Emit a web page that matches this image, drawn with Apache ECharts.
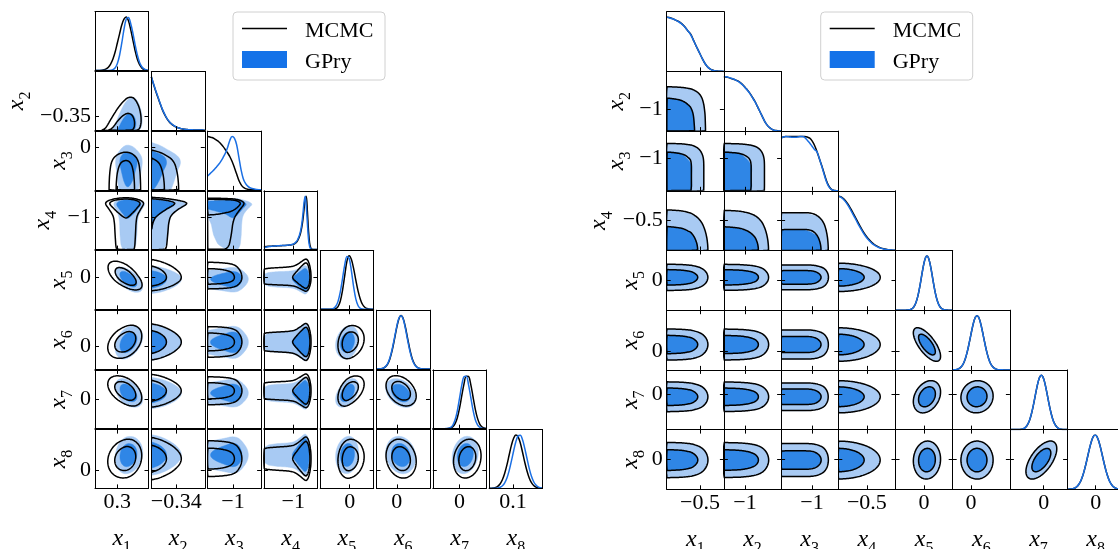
<!DOCTYPE html>
<html><head><meta charset="utf-8">
<script src="https://cdn.jsdelivr.net/npm/echarts@6/dist/echarts.min.js"></script>
<style>html,body{margin:0;padding:0;background:#fff}#c{width:1118px;height:549px}</style>
</head><body><div id="c"></div>
<script>
// ---------------- DATA ----------------
const VAR_NAMES = ['1','2','3','4','5','6','7','8'];
// Left corner plot: axis ranges and tick values
const L_MIN = [0.25, -0.36, -2.85, -2.1, -1.1, -0.76, -1.0, -0.22];
const L_MAX = [0.37, -0.317, 1.05, -0.1, 0.9, 1.24, 1.0, 0.5];
const L_XTICKS = [0.3, -0.34, -1, -1, 0, 0, 0, 0.1];
const L_YTICKS = [0.3, -0.35, 0, -1, 0, 0, 0, 0];
// Right corner plot
const R_MIN = [-1.0, -1.74, -2.08, -1.0, -1.0, -0.32, -0.59, -0.5];
const R_MAX = [-0.14, 0.26, -0.08, 0.0, 1.0, 0.68, 0.41, 0.5];
const R_XTICKS = [-0.5, -1, -1, -0.5, 0, 0, 0, 0];
const R_YTICKS = [-0.5, -1, -1, -0.5, 0, 0, 0, 0];

// 1D marginals (peak-normalised), sampled evenly across each axis range
const L_MCMC_X1 = [0.0002,0.0006,0.0018,0.005,0.013,0.029,0.062,0.12,0.21,0.34,0.51,0.68,0.85,0.96,1.0,0.93,0.77,0.57,0.37,0.21,0.11,0.049,0.019,0.007,0.002];
const L_GPRY_X1 = [0,0,0,0,0,0.0001,0.0007,0.0037,0.014,0.046,0.126,0.28,0.51,0.77,0.96,0.99,0.88,0.70,0.48,0.29,0.15,0.071,0.029,0.010,0.003];
const L_MCMC_X2 = [1.0,0.86,0.73,0.61,0.49,0.38,0.29,0.215,0.16,0.118,0.086,0.062,0.045,0.033,0.024,0.018,0.013,0.01,0.0075,0.0055,0.004,0.003,0.002,0.0015,0.001];
const L_GPRY_X2 = [1.0,0.87,0.74,0.62,0.50,0.39,0.30,0.22,0.165,0.12,0.088,0.064,0.046,0.034,0.025,0.018,0.013,0.01,0.0075,0.0055,0.004,0.003,0.002,0.0015,0.001];
const L_MCMC_X3 = [1.0,0.99,0.98,0.96,0.93,0.90,0.86,0.81,0.75,0.69,0.62,0.53,0.42,0.3,0.18,0.1,0.05,0.025,0.013,0.007,0.004,0.003,0.002,0.001,0.001];
const L_GPRY_X3 = [0.26,0.30,0.34,0.38,0.43,0.48,0.54,0.61,0.69,0.80,0.93,1.0,0.97,0.85,0.62,0.38,0.21,0.12,0.07,0.04,0.025,0.015,0.009,0.005,0.003];
const L_MCMC_X4 = [0.05,0.055,0.058,0.06,0.062,0.063,0.064,0.065,0.066,0.067,
  0.068,0.069,0.07,0.071,0.072,0.073,0.074,0.075,0.076,0.077,
  0.078,0.08,0.082,0.085,0.088,0.092,0.097,0.105,0.118,0.135,
  0.16,0.2,0.25,0.32,0.42,0.56,0.75,0.95,1.0,0.72,
  0.36,0.12,0.035,0.008,0.002,0,0,0,0];
const L_GPRY_X4 = [0.035,0.04,0.045,0.05,0.055,0.058,0.06,0.062,0.064,0.066,
  0.068,0.07,0.072,0.073,0.074,0.075,0.076,0.077,0.078,0.079,
  0.08,0.082,0.084,0.087,0.09,0.094,0.1,0.11,0.125,0.145,
  0.175,0.22,0.28,0.36,0.48,0.66,0.88,1.0,0.82,0.5,
  0.2,0.06,0.015,0.003,0,0,0,0,0];
const L_MCMC_X5 = [0,0,0,0,0.0001,0.0005,0.003,0.014,0.052,0.152,0.35,0.63,0.9,1.0,0.93,0.76,0.54,0.34,0.19,0.09,0.039,0.014,0.005,0.0015,0.0004];
const L_GPRY_X5 = [0,0,0,0,0.001,0.004,0.017,0.057,0.148,0.32,0.57,0.83,0.99,0.95,0.72,0.42,0.19,0.067,0.018,0.004,0.001,0,0,0,0];
const L_MCMC_X6 = [0.0003,0.0014,0.0047,0.0144,0.039,0.091,0.189,0.343,0.544,0.761,0.932,1.0,0.94,0.776,0.564,0.358,0.198,0.098,0.042,0.0155,0.0052,0.0015,0.0004,0.0001,0];
const L_GPRY_X6 = [0.0004,0.0018,0.006,0.017,0.045,0.1,0.205,0.365,0.57,0.78,0.945,0.995,0.93,0.75,0.53,0.33,0.18,0.085,0.036,0.013,0.004,0.001,0.0003,0,0];
const L_MCMC_X7 = [0,0,0,0,0,0.0002,0.0008,0.0035,0.012,0.037,0.094,0.205,0.385,0.618,0.84,0.982,0.978,0.835,0.607,0.375,0.202,0.091,0.035,0.012,0.0033];
const L_GPRY_X7 = [0,0,0,0,0.0001,0.0004,0.0018,0.0072,0.024,0.069,0.168,0.335,0.57,0.815,0.974,0.982,0.83,0.594,0.355,0.177,0.076,0.027,0.0079,0.002,0.0004];
const L_MCMC_X8 = [0.0009,0.0027,0.0074,0.0187,0.043,0.087,0.166,0.285,0.44,0.625,0.805,0.939,1.0,0.965,0.85,0.677,0.49,0.326,0.195,0.106,0.053,0.024,0.0097,0.0037,0.0012];
const L_GPRY_X8 = [0.0001,0.0003,0.001,0.003,0.0086,0.022,0.05,0.105,0.195,0.333,0.51,0.70,0.872,0.98,0.993,0.908,0.748,0.56,0.375,0.227,0.125,0.062,0.027,0.011,0.004];

const R_MCMC_X1 = [1.0,0.995,0.98,0.96,0.94,0.92,0.89,0.85,0.80,0.74,0.69,0.60,0.50,0.41,0.32,0.23,0.15,0.09,0.05,0.025,0.012,0.006,0.003,0.001,0];
const R_GPRY_X1 = [1.0,0.99,0.975,0.96,0.94,0.915,0.885,0.845,0.795,0.74,0.68,0.595,0.50,0.41,0.32,0.23,0.15,0.09,0.05,0.024,0.011,0.005,0.002,0.001,0];
const R_MCMC_X2 = [1.0,0.995,0.985,0.97,0.955,0.94,0.92,0.89,0.85,0.80,0.75,0.69,0.62,0.55,0.46,0.37,0.28,0.19,0.12,0.07,0.038,0.018,0.01,0.004,0.001];
const R_GPRY_X2 = [1.0,1.0,0.99,0.975,0.96,0.94,0.915,0.885,0.845,0.795,0.745,0.685,0.615,0.545,0.46,0.37,0.28,0.19,0.12,0.07,0.036,0.017,0.008,0.003,0.001];
const R_MCMC_X3 = [0.98,0.99,1.0,1.0,1.0,1.0,1.0,1.0,1.0,1.0,1.0,0.99,0.97,0.92,0.84,0.73,0.6,0.47,0.33,0.19,0.09,0.03,0.01,0.003,0.001];
const R_GPRY_X3 = [0.97,0.99,1.0,0.995,0.99,0.985,0.985,0.99,1.0,1.0,0.98,0.93,0.88,0.82,0.76,0.72,0.6,0.46,0.31,0.17,0.075,0.025,0.008,0.002,0];
const R_MCMC_X4 = [1.0,0.99,0.962,0.917,0.857,0.786,0.707,0.623,0.54,0.458,0.381,0.311,0.249,0.196,0.151,0.114,0.085,0.062,0.044,0.031,0.021,0.014,0.009,0.006,0.004];
const R_GPRY_X4 = [1.0,0.985,0.95,0.9,0.835,0.76,0.68,0.6,0.515,0.435,0.36,0.29,0.23,0.18,0.137,0.103,0.076,0.055,0.039,0.027,0.018,0.012,0.008,0.005,0.003];
const R_MCMC_X5 = [0,0,0,0,0,0,0.0002,0.0006,0.0015,0.0037,0.0084,0.018,0.036,0.068,0.119,0.196,0.302,0.436,0.588,0.742,0.876,0.967,1,0.967,0.876,0.742,0.588,0.436,0.302,0.196,0.119,0.068,0.036,0.018,0.0084,0.0037,0.0015,0.0006,0.0002,0,0];
const R_GPRY_X5 = [0,0,0,0,0,0,0.0002,0.0007,0.0016,0.0039,0.0088,0.019,0.037,0.07,0.122,0.2,0.306,0.44,0.592,0.745,0.878,0.968,1,0.966,0.873,0.738,0.584,0.432,0.298,0.193,0.117,0.067,0.035,0.017,0.008,0.0035,0.0014,0.0005,0.0002,0,0];
const R_MCMC_X6 = [0.0011,0.0024,0.0049,0.0098,0.0185,0.033,0.057,0.094,0.147,0.22,0.314,0.427,0.554,0.685,0.808,0.91,0.977,1,0.977,0.91,0.808,0.685,0.554,0.427,0.314,0.22,0.147,0.094,0.057,0.033,0.0185,0.0098,0.0049,0.0024,0.0011,0.0005,0.0002,0,0,0,0];
const R_GPRY_X6 = [0.0012,0.0026,0.0052,0.0102,0.019,0.034,0.059,0.097,0.151,0.224,0.318,0.431,0.558,0.688,0.81,0.911,0.977,1,0.976,0.907,0.804,0.68,0.549,0.422,0.31,0.216,0.144,0.091,0.055,0.032,0.018,0.0094,0.0047,0.0023,0.001,0.0005,0.0002,0,0,0,0];
const R_MCMC_X7 = [0,0,0,0,0.0002,0.0006,0.0013,0.003,0.0063,0.0127,0.024,0.044,0.076,0.123,0.191,0.282,0.395,0.524,0.662,0.793,0.902,0.975,1,0.975,0.902,0.793,0.662,0.524,0.395,0.282,0.191,0.123,0.076,0.044,0.024,0.0127,0.0063,0.003,0.0013,0.0006,0.0002];
const R_GPRY_X7 = [0,0,0,0,0.0002,0.0007,0.0014,0.0032,0.0066,0.0132,0.025,0.046,0.079,0.127,0.196,0.287,0.4,0.529,0.666,0.796,0.904,0.976,1,0.973,0.899,0.789,0.657,0.519,0.39,0.278,0.187,0.12,0.074,0.043,0.023,0.0122,0.006,0.0028,0.0012,0.0005,0.0002];
const R_MCMC_X8 = [0.0008,0.0017,0.0033,0.0061,0.011,0.019,0.033,0.053,0.083,0.125,0.182,0.255,0.344,0.447,0.56,0.676,0.787,0.882,0.954,0.993,0.997,0.964,0.899,0.808,0.699,0.583,0.469,0.363,0.271,0.195,0.135,0.09,0.058,0.036,0.022,0.0125,0.0069,0.0037,0.0019,0.001,0.0005];
const R_GPRY_X8 = [0.0008,0.0018,0.0034,0.0063,0.0113,0.0195,0.034,0.054,0.085,0.127,0.185,0.258,0.347,0.45,0.563,0.679,0.789,0.884,0.955,0.993,0.996,0.962,0.896,0.804,0.695,0.579,0.465,0.359,0.268,0.192,0.133,0.088,0.057,0.035,0.021,0.012,0.0066,0.0035,0.0018,0.0009,0.0004];

// pair correlations [var a, var b, rho] (unlisted pairs: 0)
const L_RHO = [[1,2,0.35],[1,5,-0.6],[1,6,0.35],[1,7,-0.45],[1,8,0.15],[5,6,0.2],[5,7,0.45],[5,8,0.1],[6,7,-0.35],[6,8,-0.15],[7,8,0.15]];
const R_RHO = [[5,6,-0.7],[5,7,0.3],[6,7,0.05],[5,8,0.05],[7,8,0.6]];

// ---------------- STYLE ----------------
const FONT = "'Liberation Serif', 'DejaVu Serif', serif";
const GPRY_LINE = '#1a6fe4';
const GPRY_DARK = '#2f86e6';
const GPRY_LIGHT = '#a8caf3';
const GPRY_PATCH = '#1472e8';

const PLOTS = [
  {left0:95, pitchX:56.3, w:53.5, top0:11.7, pitchY:59.7, h:58.8, min:L_MIN, max:L_MAX, xt:L_XTICKS, yt:L_YTICKS,
   mc:[L_MCMC_X1,L_MCMC_X2,L_MCMC_X3,L_MCMC_X4,L_MCMC_X5,L_MCMC_X6,L_MCMC_X7,L_MCMC_X8],
   gp:[L_GPRY_X1,L_GPRY_X2,L_GPRY_X3,L_GPRY_X4,L_GPRY_X5,L_GPRY_X6,L_GPRY_X7,L_GPRY_X8],
   rho:L_RHO, yGap:[0,61,18,35,16,16,16,16]},
  {left0:666.7, pitchX:57.2, w:57.2, top0:11.7, pitchY:59.7, h:59.7, min:R_MIN, max:R_MAX, xt:R_XTICKS, yt:R_YTICKS,
   mc:[R_MCMC_X1,R_MCMC_X2,R_MCMC_X3,R_MCMC_X4,R_MCMC_X5,R_MCMC_X6,R_MCMC_X7,R_MCMC_X8],
   gp:[R_GPRY_X1,R_GPRY_X2,R_GPRY_X3,R_GPRY_X4,R_GPRY_X5,R_GPRY_X6,R_GPRY_X7,R_GPRY_X8],
   rho:R_RHO, yGap:[0,33,33,51,18,18,18,18]}
];

// ---------------- helpers ----------------
function makeInterp(vals, lo, hi) {
  const n = vals.length;
  return function (x) {
    if (x < lo || x > hi) return 0;
    const u = (x - lo) / (hi - lo) * (n - 1);
    let k = Math.floor(u); if (k >= n - 1) k = n - 2;
    const t = u - k;
    const p0 = vals[Math.max(k - 1, 0)], p1 = vals[k], p2 = vals[k + 1], p3 = vals[Math.min(k + 2, n - 1)];
    const v = 0.5 * (2 * p1 + (-p0 + p2) * t + (2 * p0 - 5 * p1 + 4 * p2 - p3) * t * t + (-p0 + 3 * p1 - 3 * p2 + p3) * t * t * t);
    return Math.max(v, 0);
  };
}
function invNorm(p) {
  const a=[-3.969683028665376e+01,2.209460984245205e+02,-2.759285104469687e+02,1.383577518672690e+02,-3.066479806614716e+01,2.506628277459239e+00];
  const b=[-5.447609879822406e+01,1.615858368580409e+02,-1.556989798598866e+02,6.680131188771972e+01,-1.328068155288572e+01];
  const c=[-7.784894002430293e-03,-3.223964580411365e-01,-2.400758277161838e+00,-2.549732539343734e+00,4.374664141464968e+00,2.938163982698783e+00];
  const d=[7.784695709041462e-03,3.224671290700398e-01,2.445134137142996e+00,3.754408661907416e+00];
  const pl = 0.02425; let q, r;
  if (p < pl) { q = Math.sqrt(-2*Math.log(p)); return (((((c[0]*q+c[1])*q+c[2])*q+c[3])*q+c[4])*q+c[5])/((((d[0]*q+d[1])*q+d[2])*q+d[3])*q+1); }
  if (p > 1 - pl) { q = Math.sqrt(-2*Math.log(1-p)); return -(((((c[0]*q+c[1])*q+c[2])*q+c[3])*q+c[4])*q+c[5])/((((d[0]*q+d[1])*q+d[2])*q+d[3])*q+1); }
  q = p - 0.5; r = q*q;
  return (((((a[0]*r+a[1])*r+a[2])*r+a[3])*r+a[4])*r+a[5])*q/(((((b[0]*r+b[1])*r+b[2])*r+b[3])*r+b[4])*r+1);
}
function makeZ(f, lo, hi) {
  const M = 600, cs = [0]; let acc = 0, prev = f(lo);
  for (let k = 1; k <= M; k++) { const v = f(lo + (hi - lo) * k / M); acc += 0.5 * (prev + v); prev = v; cs.push(acc); }
  return function (x) {
    let u = (x - lo) / (hi - lo) * M; u = Math.min(Math.max(u, 0), M);
    const k = Math.min(Math.floor(u), M - 1), t = u - k;
    let F = (cs[k] + (cs[k + 1] - cs[k]) * t) / acc;
    F = Math.min(Math.max(F, 1e-6), 1 - 1e-6);
    return invNorm(F);
  };
}
function rhoOf(list, i, j) {
  for (const e of list) if ((e[0] === i + 1 && e[1] === j + 1) || (e[0] === j + 1 && e[1] === i + 1)) return e[2];
  return 0;
}
const NG = 64;
function marching(g, W, H, thr) {
  const segs = [];
  const val = (i, j) => g[j * W + i];
  function edge(e, i, j, a, b, c, d) {
    if (e === 0) return [(j * W + i) * 2, [i + (thr - a) / (b - a), j]];
    if (e === 1) return [(j * W + i + 1) * 2 + 1, [i + 1, j + (thr - b) / (c - b)]];
    if (e === 2) return [((j + 1) * W + i) * 2, [i + (thr - d) / (c - d), j + 1]];
    return [(j * W + i) * 2 + 1, [i, j + (thr - a) / (d - a)]];
  }
  const T = {1:[[3,0]],2:[[0,1]],3:[[3,1]],4:[[1,2]],6:[[0,2]],7:[[3,2]],8:[[2,3]],9:[[0,2]],11:[[1,2]],12:[[1,3]],13:[[0,1]],14:[[3,0]]};
  for (let j = 0; j < H - 1; j++) for (let i = 0; i < W - 1; i++) {
    const a = val(i, j), b = val(i + 1, j), c = val(i + 1, j + 1), d = val(i, j + 1);
    const idx = (a >= thr ? 1 : 0) | (b >= thr ? 2 : 0) | (c >= thr ? 4 : 0) | (d >= thr ? 8 : 0);
    if (idx === 0 || idx === 15) continue;
    let pairs;
    const ctr = (a + b + c + d) / 4 >= thr;
    if (idx === 5) pairs = ctr ? [[0,1],[2,3]] : [[3,0],[1,2]];
    else if (idx === 10) pairs = ctr ? [[3,0],[1,2]] : [[0,1],[2,3]];
    else pairs = T[idx];
    for (const p of pairs) {
      const A = edge(p[0], i, j, a, b, c, d), B = edge(p[1], i, j, a, b, c, d);
      segs.push({ka: A[0], pa: A[1], kb: B[0], pb: B[1]});
    }
  }
  const map = new Map();
  segs.forEach((s, k) => {
    if (!map.has(s.ka)) map.set(s.ka, []); map.get(s.ka).push(k);
    if (!map.has(s.kb)) map.set(s.kb, []); map.get(s.kb).push(k);
  });
  const used = new Uint8Array(segs.length), loops = [];
  for (let s = 0; s < segs.length; s++) {
    if (used[s]) continue;
    used[s] = 1;
    const start = segs[s].ka, loop = [segs[s].pa, segs[s].pb];
    let cur = segs[s].kb, guard = 0;
    while (cur !== start && guard++ < 100000) {
      const cand = map.get(cur) || []; let nx = -1;
      for (const c of cand) if (!used[c]) { nx = c; break; }
      if (nx < 0) break;
      used[nx] = 1;
      const sg = segs[nx];
      if (sg.ka === cur) { cur = sg.kb; loop.push(sg.pb); } else { cur = sg.ka; loop.push(sg.pa); }
    }
    if (loop.length > 3) loops.push(loop);
  }
  return loops;
}
function contours2D(P, m, i, j) {
  const fx = P.fn[m][j], fy = P.fn[m][i];
  const rho = rhoOf(P.rho, i, j);
  const xlo = P.min[j], xhi = P.max[j], ylo = P.min[i], yhi = P.max[i];
  const W = NG + 2, H = NG + 2, dx = (xhi - xlo) / NG, dy = (yhi - ylo) / NG;
  const px = new Float64Array(W), py = new Float64Array(H), zx = new Float64Array(W), zy = new Float64Array(H);
  for (let k = 1; k <= NG; k++) {
    const x = xlo + (k - 0.5) * dx, y = ylo + (k - 0.5) * dy;
    px[k] = fx(x); py[k] = fy(y);
    if (rho) { zx[k] = P.zn[m][j](x); zy[k] = P.zn[m][i](y); }
  }
  const g = new Float64Array(W * H), all = [];
  const r2 = 1 - rho * rho;
  for (let jj = 1; jj <= NG; jj++) for (let ii = 1; ii <= NG; ii++) {
    let v = px[ii] * py[jj];
    if (rho) {
      const a = zx[ii], b = zy[jj];
      v *= Math.exp(-(rho * rho * (a * a + b * b) - 2 * rho * a * b) / (2 * r2)) / Math.sqrt(r2);
    }
    g[jj * W + ii] = v; all.push(v);
  }
  all.sort((a, b) => b - a);
  const tot = all.reduce((s, v) => s + v, 0);
  function level(fr) { let acc = 0; for (const v of all) { acc += v; if (acc >= fr * tot) return v; } return all[all.length - 1]; }
  const toData = loop => loop.map(p => [xlo + (p[0] - 0.5) * dx, ylo + (p[1] - 0.5) * dy]);
  return {l95: marching(g, W, H, level(0.95)).map(toData), l68: marching(g, W, H, level(0.68)).map(toData)};
}

// ---------------- build option ----------------
const option = {animation: false, backgroundColor: '#fff', grid: [], xAxis: [], yAxis: [], series: [], graphic: []};
const fmt = v => String(v).replace('-', '\u2212');
const RICH = {
  a: {fontFamily: FONT, fontStyle: 'italic', fontSize: 24, color: '#000', verticalAlign: 'bottom', padding: [0, 0, 5, 0]},
  b: {fontFamily: FONT, fontSize: 16, color: '#000', verticalAlign: 'bottom'}
};
function mkAxis(gi, pos, lo, hi, tick, showTick, showLabel, name, gap, isY) {
  const ax = {
    type: 'value', gridIndex: gi, position: pos, min: lo, max: hi, z: 10,
    axisLine: {show: true, onZero: false, lineStyle: {color: '#000', width: 1}},
    axisTick: {show: showTick, inside: true, length: 4, lineStyle: {color: '#000', width: 1}, customValues: tick == null ? [] : [tick]},
    axisLabel: {show: showLabel, customValues: tick == null ? [] : [tick], formatter: fmt, fontFamily: FONT, fontSize: 22, color: '#000', margin: isY ? 4 : 3},
    splitLine: {show: false}
  };
  if (name) {
    ax.name = name; ax.nameLocation = 'middle'; ax.nameGap = gap;
    if (isY) ax.nameRotate = 90;
    ax.nameTextStyle = {fontFamily: FONT, color: '#000', rich: RICH};
  }
  return ax;
}

PLOTS.forEach(P => {
  P.fn = {mc: [], gp: []}; P.zn = {mc: [], gp: []};
  for (const m of ['mc', 'gp']) for (let k = 0; k < 8; k++) {
    const f = makeInterp(P[m][k], P.min[k], P.max[k]);
    P.fn[m].push(f); P.zn[m].push(makeZ(f, P.min[k], P.max[k]));
  }
  for (let i = 0; i < 8; i++) for (let j = 0; j <= i; j++) {
    const gi = option.grid.length, diag = i === j;
    option.grid.push({left: P.left0 + j * P.pitchX, top: P.top0 + i * P.pitchY, width: P.w, height: P.h, outerBoundsMode: 'none', containLabel: false});
    const xlo = P.min[j], xhi = P.max[j];
    const ylo = diag ? 0 : P.min[i], yhi = diag ? 1.1 : P.max[i];
    const xb = option.xAxis.length, yl = option.yAxis.length;
    const bottom = i === 7, leftCol = j === 0 && !diag;
    option.xAxis.push(mkAxis(gi, 'bottom', xlo, xhi, P.xt[j], true, bottom, bottom ? '{a|x}{b|' + VAR_NAMES[j] + '}' : null, 38, false));
    option.xAxis.push(mkAxis(gi, 'top', xlo, xhi, P.xt[j], !diag, false, null, 0, false));
    option.yAxis.push(mkAxis(gi, 'left', ylo, yhi, diag ? null : P.yt[i], !diag, leftCol, leftCol ? '{a|x}{b|' + VAR_NAMES[i] + '}' : null, P.yGap[i], true));
    option.yAxis.push(mkAxis(gi, 'right', ylo, yhi, diag ? null : P.yt[i], !diag, false, null, 0, true));
    if (diag) {
      const n1 = P.mc[j].length, n2 = P.gp[j].length;
      option.series.push({type: 'line', xAxisIndex: xb, yAxisIndex: yl, name: 'MCMC', showSymbol: false, smooth: 0.35, silent: true,
        lineStyle: {color: '#000', width: 1.5}, data: P.mc[j].map((v, k) => [xlo + (xhi - xlo) * k / (n1 - 1), v])});
      option.series.push({type: 'line', xAxisIndex: xb, yAxisIndex: yl, name: 'GPry', showSymbol: false, smooth: 0.35, silent: true,
        lineStyle: {color: GPRY_LINE, width: 1.5}, data: P.gp[j].map((v, k) => [xlo + (xhi - xlo) * k / (n2 - 1), v])});
    } else {
      const cg = contours2D(P, 'gp', i, j), cm = contours2D(P, 'mc', i, j);
      const mid = [[(xlo + xhi) / 2, (ylo + yhi) / 2]];
      option.series.push({type: 'custom', name: 'GPry', coordinateSystem: 'cartesian2d', xAxisIndex: xb, yAxisIndex: yl, clip: true, silent: true, data: mid,
        renderItem: (params, api) => ({type: 'group', children:
          cg.l95.map(l => ({type: 'polygon', shape: {points: l.map(p => api.coord(p))}, style: {fill: GPRY_LIGHT, stroke: GPRY_LIGHT, lineWidth: 0.5}}))
          .concat(cg.l68.map(l => ({type: 'polygon', shape: {points: l.map(p => api.coord(p))}, style: {fill: GPRY_DARK, stroke: GPRY_DARK, lineWidth: 0.5}})))})});
      option.series.push({type: 'custom', name: 'MCMC', coordinateSystem: 'cartesian2d', xAxisIndex: xb, yAxisIndex: yl, clip: true, silent: true, data: mid,
        renderItem: (params, api) => ({type: 'group', children:
          cm.l95.concat(cm.l68).map(l => ({type: 'polygon', shape: {points: l.map(p => api.coord(p))}, style: {fill: 'none', stroke: '#000', lineWidth: 1.5}}))})});
    }
  }
});

// legends (one per corner plot)
function legend(x0) {
  return [
    {type: 'rect', shape: {x: x0, y: 12, width: 152, height: 68, r: 4}, style: {fill: '#fff', stroke: '#d0d0d0', lineWidth: 1}, z: 100},
    {type: 'line', shape: {x1: x0 + 9, y1: 28.5, x2: x0 + 54, y2: 28.5}, style: {stroke: '#000', lineWidth: 1.5}, z: 101},
    {type: 'rect', shape: {x: x0 + 9, y: 51, width: 45, height: 17}, style: {fill: GPRY_PATCH}, z: 101},
    {type: 'text', x: x0 + 72, y: 31, style: {text: 'MCMC', font: '22px ' + FONT, fill: '#000', textVerticalAlign: 'middle'}, z: 101},
    {type: 'text', x: x0 + 72, y: 62, style: {text: 'GPry', font: '22px ' + FONT, fill: '#000', textVerticalAlign: 'middle'}, z: 101}
  ];
}
option.graphic = legend(233).concat(legend(820.7));

const chart = echarts.init(document.getElementById('c'), null, {renderer: 'canvas'});
chart.setOption(option);
</script></body></html>
